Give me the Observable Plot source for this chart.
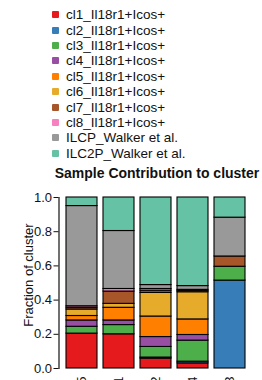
<!DOCTYPE html>
<html><head><meta charset="utf-8">
<script src="https://cdn.jsdelivr.net/npm/d3@7"></script>
<script src="https://cdn.jsdelivr.net/npm/@observablehq/plot@0.6"></script>
<style>
body{margin:0;width:262px;height:380px;overflow:hidden;background:#fff;font-family:"Liberation Sans",Arial,sans-serif;position:relative}
#legend{position:absolute;left:52px;top:7px}
.item{height:15.4px;display:flex;align-items:center;font-size:13.5px;color:#111;white-space:nowrap}
.sw{width:7px;height:7px;margin-right:7px;border-radius:1px;flex:none}
#title{position:absolute;left:50px;width:214px;top:165px;text-align:center;font-weight:bold;font-size:14px;line-height:16px;color:#111;white-space:nowrap}
#chart{position:absolute;left:0;top:185px}
</style></head>
<body>
<div id="legend"></div>
<div id="title">Sample Contribution to cluster</div>
<div id="chart"></div>
<script>
const clusters = ["5", "1", "2", "4", "3"];
const series = ["cl1_Il18r1+Icos+", "cl2_Il18r1+Icos+", "cl3_Il18r1+Icos+", "cl4_Il18r1+Icos+", "cl5_Il18r1+Icos+", "cl6_Il18r1+Icos+", "cl7_Il18r1+Icos+", "cl8_Il18r1+Icos+", "ILCP_Walker et al.", "ILC2P_Walker et al."];
const colors = ["#E41A1C", "#377EB8", "#4DAF4A", "#984EA3", "#FF7F00", "#E6AB2A", "#A65628", "#F781BF", "#999999", "#66C2A5"];
const cl1 = [0.204, 0.200, 0.058, 0.030, 0];
const cl2 = [0, 0, 0.006, 0.010, 0.514];
const cl3 = [0.040, 0.054, 0.062, 0.123, 0.081];
const cl4 = [0.037, 0.027, 0.058, 0.033, 0];
const cl5 = [0.026, 0.074, 0.120, 0.091, 0];
const cl6 = [0.038, 0.023, 0.138, 0.159, 0];
const cl7 = [0.010, 0.072, 0.013, 0.008, 0.060];
const cl8 = [0.009, 0.015, 0.010, 0.006, 0];
const ilcp = [0.586, 0.339, 0.023, 0.022, 0.227];
const ilc2p = [0.050, 0.196, 0.512, 0.518, 0.118];
const yTicks = [0, 0.2, 0.4, 0.6, 0.8, 1.0];
const yLabel = "Fraction of cluster";

const values = [cl1, cl2, cl3, cl4, cl5, cl6, cl7, cl8, ilcp, ilc2p];
const data = [];
series.forEach((s, i) => clusters.forEach((c, j) => data.push({cluster: c, series: s, value: values[i][j]})));

const legend = document.getElementById("legend");
series.forEach((s, i) => {
  const d = document.createElement("div");
  d.className = "item";
  d.innerHTML = `<span class="sw" style="background:${colors[i]}"></span><span>${s}</span>`;
  legend.appendChild(d);
});

const chart = Plot.plot({
  width: 262,
  height: 195,
  marginTop: 12,
  marginBottom: 12,
  marginLeft: 60,
  marginRight: 11,
  style: {fontFamily: "'Liberation Sans', Arial, sans-serif", fontSize: "13px", color: "#111", background: "transparent", overflow: "visible"},
  x: {domain: clusters, padding: 0.162},
  y: {domain: [0, 1]},
  color: {domain: series, range: colors},
  marks: [
    Plot.barY(data, {x: "cluster", y: "value", fill: "series", stroke: "black", strokeWidth: 1.1}),
    Plot.frame({anchor: "left", dx: -1.5, strokeWidth: 1.2}),
    Plot.axisY({ticks: yTicks, tickFormat: d3.format(".1f"), tickSize: 5, tickPadding: 2, dx: -1.5, label: null, fontSize: 13}),
    Plot.text([yLabel], {frameAnchor: "left", textAnchor: "middle", lineAnchor: "middle", rotate: -90, dx: -32, dy: -8, fontSize: 13, fill: "#111"}),
    Plot.axisX({tickSize: 0, tickPadding: 8, tickRotate: -90, label: null, fontSize: 13})
  ]
});
document.getElementById("chart").appendChild(chart);
</script>
</body></html>
